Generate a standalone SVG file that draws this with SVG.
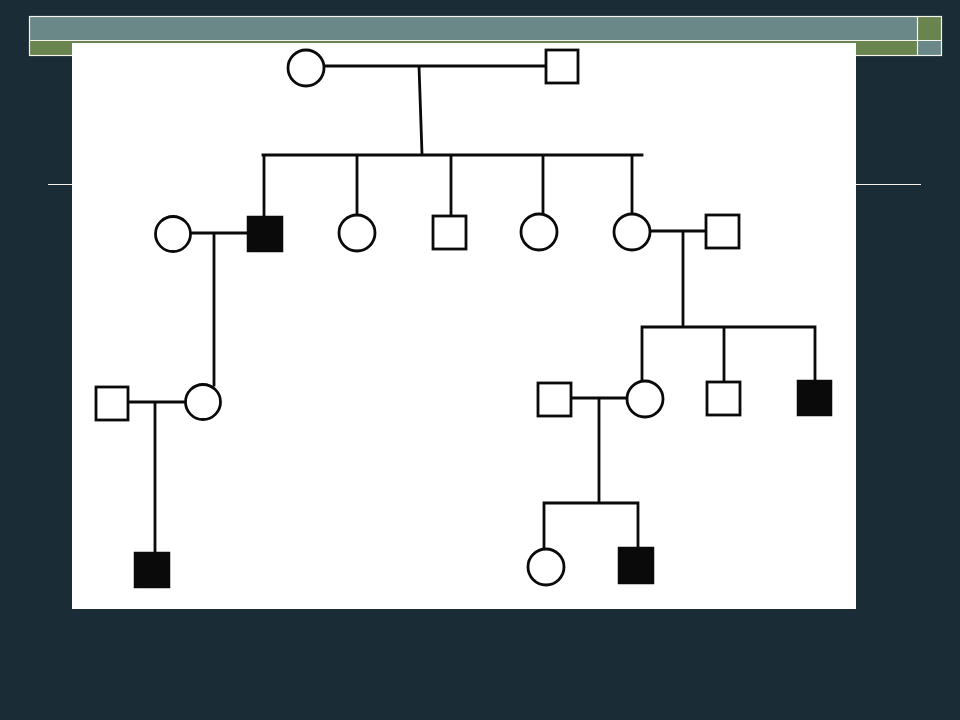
<svg xmlns="http://www.w3.org/2000/svg" width="960" height="720" viewBox="0 0 960 720">
<style>
.ln{stroke:#0a0a0a;stroke-width:2.8;fill:none;stroke-linecap:square}
.o{fill:#fff;stroke:#0a0a0a;stroke-width:2.8}
.f{fill:#0a0a0a;stroke:#0a0a0a;stroke-width:2.5}
.fr{stroke:#f4f4ec;stroke-width:1.2;fill:none}
</style>
<rect width="960" height="720" fill="#1a2d37"/>
<g id="frame">
<rect x="29.5" y="16.5" width="888" height="24" fill="#698887"/>
<rect x="917.5" y="16.5" width="24" height="24" fill="#6a8450"/>
<rect x="29.5" y="40.5" width="888" height="15" fill="#6a8450"/>
<rect x="917.5" y="40.5" width="24" height="15" fill="#698887"/>
<rect x="29.5" y="16.5" width="912" height="39" class="fr"/>
<line x1="29.5" y1="40.5" x2="941.5" y2="40.5" class="fr"/>
<line x1="917.5" y1="16.5" x2="917.5" y2="55.5" class="fr"/>
<line x1="48" y1="184.5" x2="921" y2="184.5" class="fr"/>
</g>
<rect x="72" y="43" width="784" height="566" fill="#fff"/>
<g id="connectors">
<path class="ln" d="M324 66H546M419 66L422 154M263 155H642M264 155V217M357 155V215M451 155V216M543 155V214M632 155V214"/>
<path class="ln" d="M191 233H248M214 233V385M128 402H186M155 402V553"/>
<path class="ln" d="M650 231H706M683 231V327M642 327H815M642 327V381M724 327V382M815 327V381"/>
<path class="ln" d="M571 398H627M599 398V503M544 503H638M544 503V549M638 503V548"/>
</g>
<g id="n1"><circle class="o" cx="306" cy="68" r="18"/></g>
<g id="n2"><rect class="o" x="546" y="50" width="32" height="33"/></g>
<g id="n3"><circle class="o" cx="173" cy="234" r="17.5"/></g>
<g id="n4"><rect class="f" x="248" y="217" width="34" height="34"/></g>
<g id="n5"><circle class="o" cx="357" cy="233" r="18"/></g>
<g id="n6"><rect class="o" x="433" y="216" width="33" height="33"/></g>
<g id="n7"><circle class="o" cx="539" cy="232" r="18"/></g>
<g id="n8"><circle class="o" cx="632" cy="232" r="18"/></g>
<g id="n9"><rect class="o" x="706" y="215" width="33" height="33"/></g>
<g id="n10"><rect class="o" x="96" y="387" width="32" height="33"/></g>
<g id="n11"><circle class="o" cx="203" cy="402" r="17.5"/></g>
<g id="n12"><rect class="o" x="538" y="383" width="33" height="33"/></g>
<g id="n13"><circle class="o" cx="645" cy="399" r="18"/></g>
<g id="n14"><rect class="o" x="707" y="382" width="33" height="33"/></g>
<g id="n15"><rect class="f" x="798" y="381" width="33" height="34"/></g>
<g id="n16"><rect class="f" x="135" y="553" width="34" height="34"/></g>
<g id="n17"><circle class="o" cx="546" cy="567" r="18"/></g>
<g id="n18"><rect class="f" x="619" y="548" width="34" height="35"/></g>
</svg>
